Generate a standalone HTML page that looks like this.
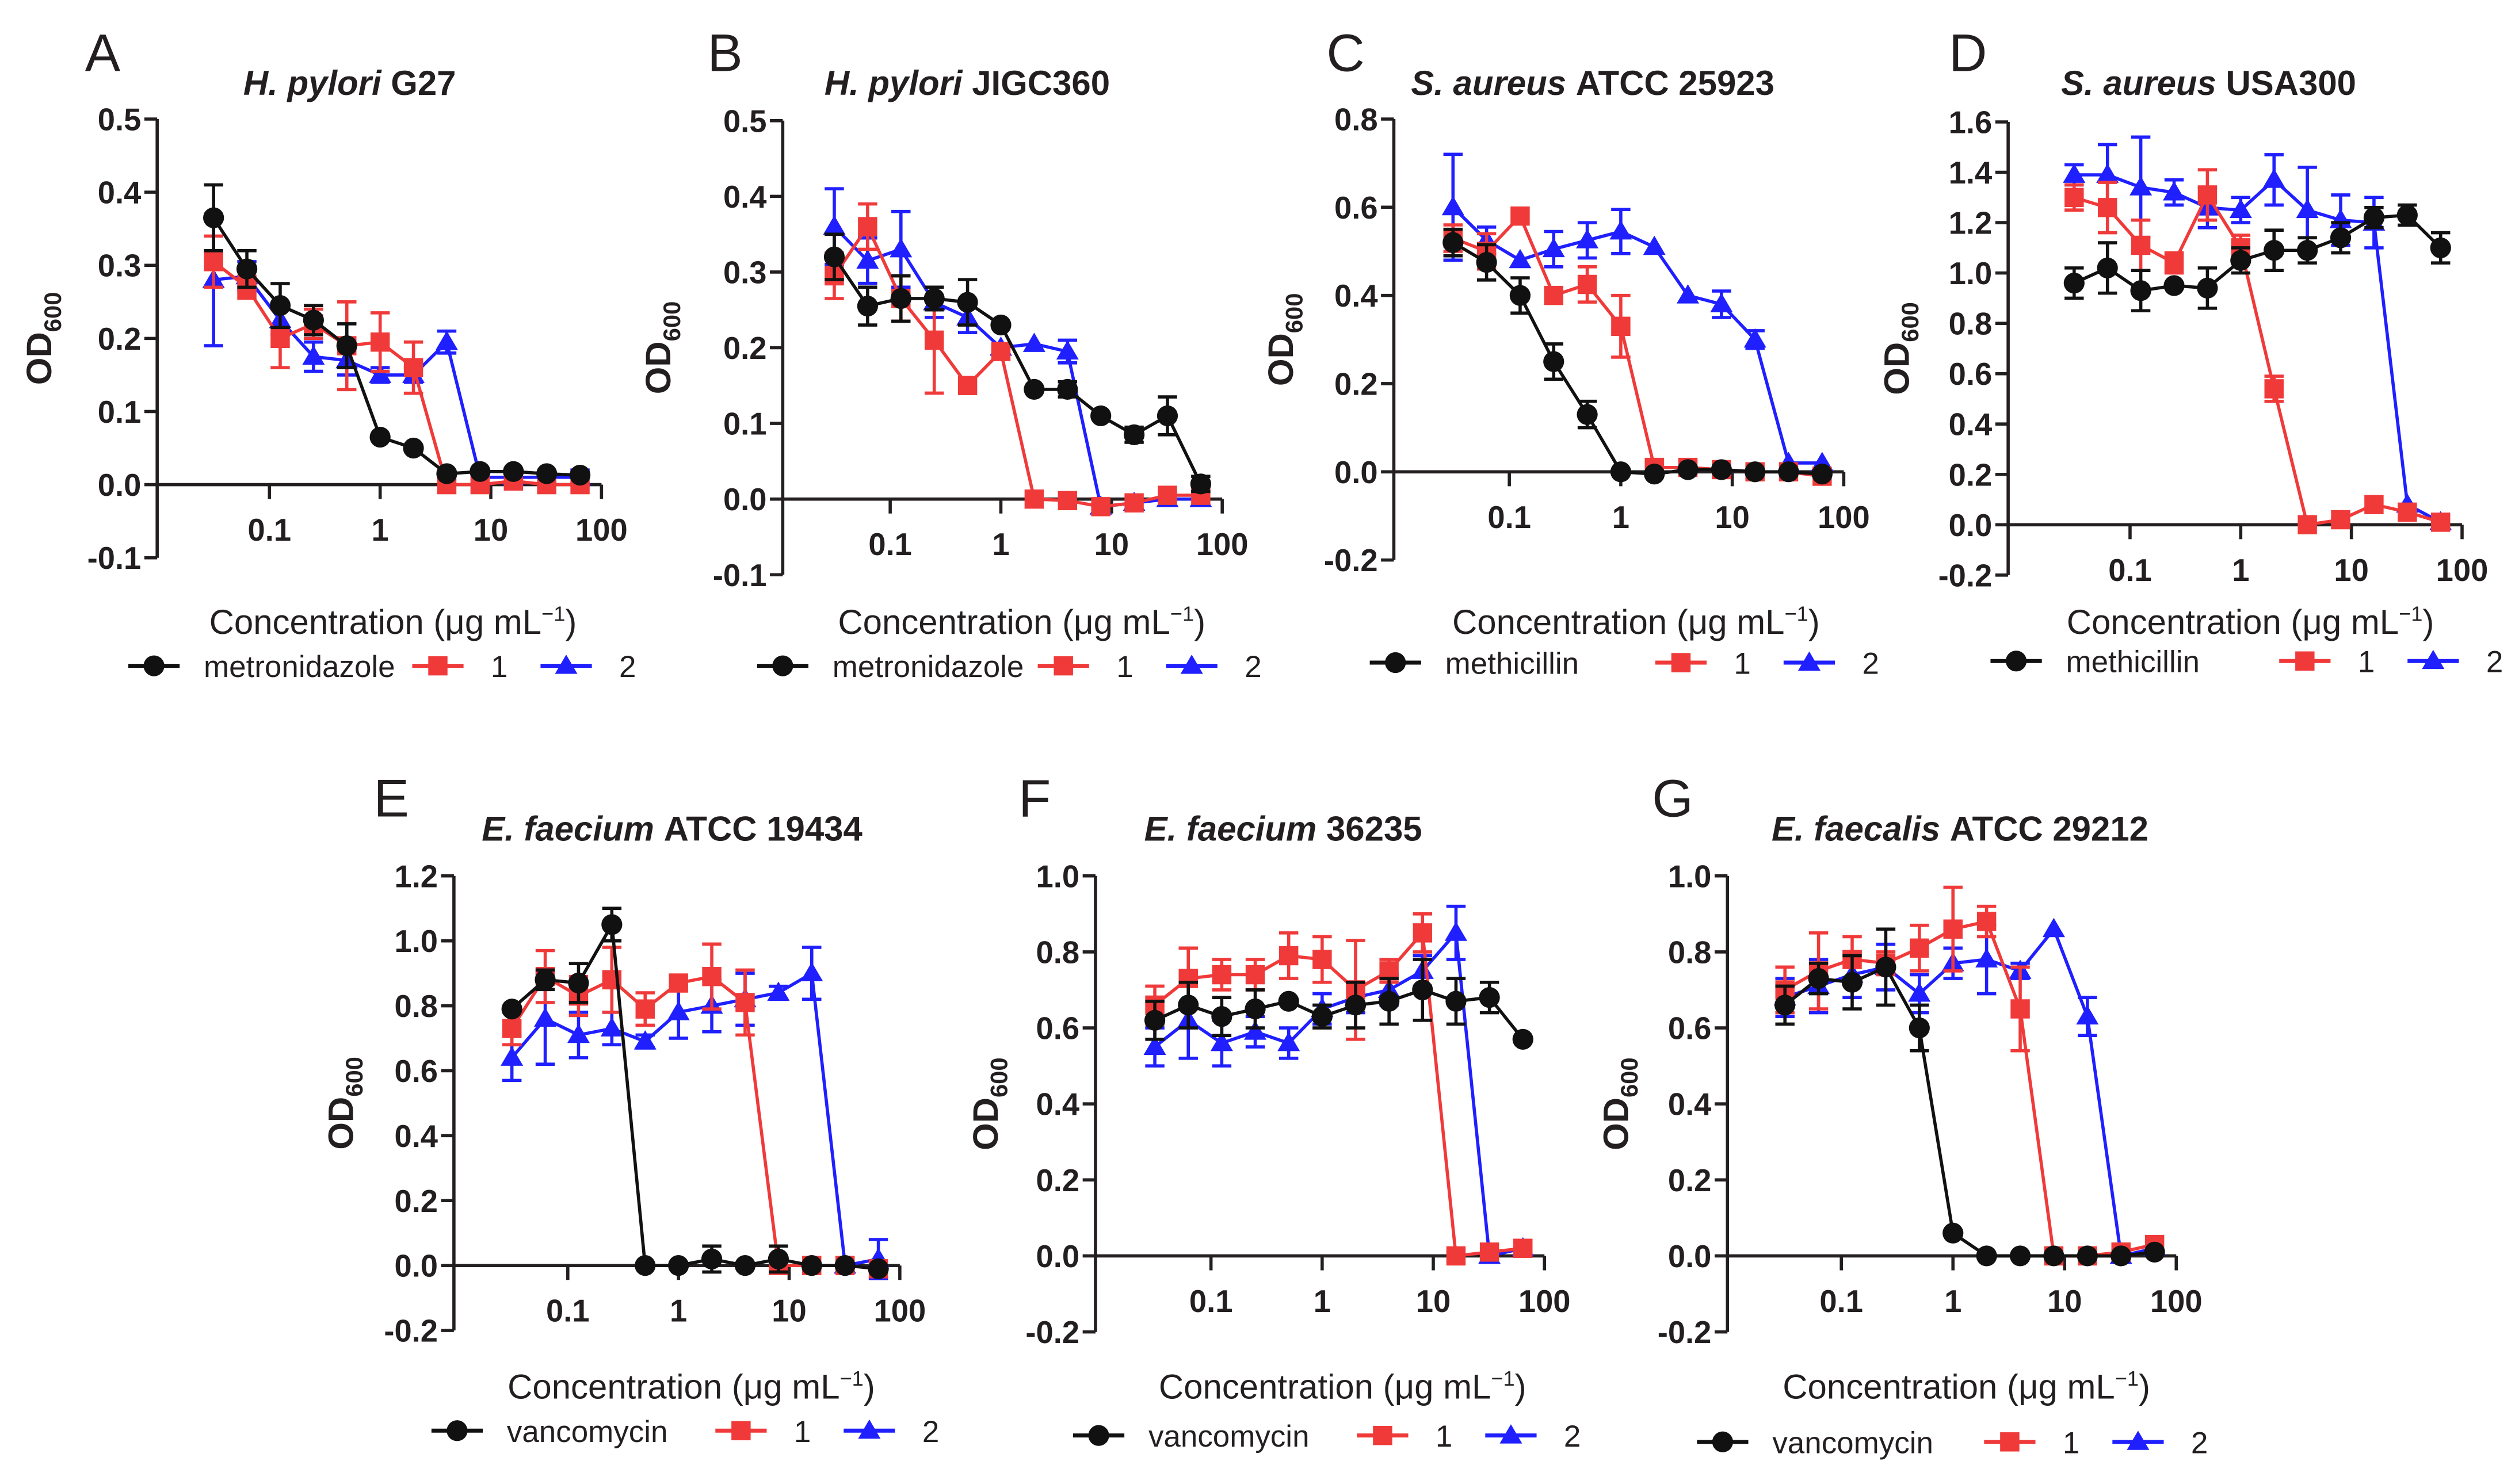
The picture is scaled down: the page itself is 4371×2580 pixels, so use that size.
<!DOCTYPE html>
<html><head><meta charset="utf-8"><style>
html,body{margin:0;padding:0;background:#fff;}
svg{display:block;}
text{font-family:"Liberation Sans",Arial,sans-serif;fill:#231f20;}
</style></head><body>
<svg id="fig" width="4371" height="2580" viewBox="0 0 1568 925" xmlns="http://www.w3.org/2000/svg"></svg>
<script>
// concentrations (µg/mL)
const conc = [0.03125,0.0625,0.125,0.25,0.5,1,2,4,8,16,32,64];
// Panel A
const aBlack=[.365,.295,.245,.225,.19,.065,.05,.015,.018,.018,.015,.013];
const aBlackE=[.045,.025,.03,.02,.03,0,0,0,0,0,0,0];
const aRed=[.305,.27,.20,.22,.19,.195,.16,0,0,.005,0,0];
const aRedE=[.035,.015,.04,.02,.06,.04,.035,0,0,0,0,0];
const aBlue=[.28,.285,.225,.175,.17,.15,.15,.195,.01,.01,.01,.01];
const aBlueE=[.09,.02,.02,.02,.02,.01,.01,.015,0,0,0,.01];
// Panel B
const bBlack=[.32,.255,.265,.265,.26,.23,.145,.145,.11,.085,.11,.02];
const bBlackE=[.03,.025,.03,.015,.03,0,0,.01,0,.01,.025,.01];
const bRed=[.295,.36,.265,.21,.15,.195,0,-.002,-.01,-.005,.005,.005];
const bRedE=[.03,.03,.03,.07,0,0,0,0,0,0,0,0];
const bBlue=[.36,.315,.33,.26,.24,.20,.205,.195,-.01,-.005,0,0];
const bBlueE=[.05,.03,.05,.02,.02,0,0,.015,0,0,0,0];
// Panel C
const cBlack=[.52,.475,.40,.25,.13,0,-.005,.005,.005,0,0,-.005];
const cBlackE=[.03,.04,.04,.04,.03,0,0,0,0,0,0,0];
const cRed=[.53,.50,.58,.40,.425,.33,.01,.01,.005,0,0,-.01];
const cRedE=[.03,.04,0,0,.04,.07,0,0,0,0,0,0];
const cBlue=[.60,.525,.48,.505,.525,.545,.51,.40,.38,.30,.02,.02];
const cBlueE=[.12,.03,0,.04,.04,.05,0,0,.03,.02,0,0];
// Panel D
const dBlack=[.96,1.02,.93,.95,.94,1.05,1.09,1.09,1.14,1.22,1.23,1.10];
const dBlackE=[.06,.1,.08,0,.08,.05,.08,.05,.06,.04,.04,.06];
const dRed=[1.30,1.26,1.11,1.04,1.31,1.10,.54,0,.02,.08,.05,.01];
const dRedE=[.05,.1,.1,.04,.1,.05,.05,0,0,0,.03,0];
const dBlue=[1.39,1.39,1.34,1.32,1.26,1.25,1.37,1.25,1.21,1.20,.08,.01];
const dBlueE=[.04,.12,.2,.05,.08,.05,.1,.17,.1,.1,0,0];
// Panel E
const eBlack=[.79,.88,.87,1.05,0,0,.02,0,.02,0,0,-.01];
const eBlackE=[0,.03,.06,.05,0,0,.04,0,.04,0,0,0];
const eRed=[.73,.89,.83,.88,.79,.87,.89,.81,0,0,0,-.01];
const eRedE=[.05,.08,.06,.1,.05,0,.1,.1,0,0,0,0];
const eBlue=[.64,.76,.71,.73,.69,.78,.80,.82,.84,.90,0,.02];
const eBlueE=[.07,.14,.07,.05,.02,.08,.08,.08,.02,.08,0,.06];
// Panel F
const fBlack=[.62,.66,.63,.65,.67,.63,.66,.67,.70,.67,.68,.57];
const fBlackE=[.05,.06,.05,.05,0,.03,.06,.06,.08,.06,.04,0];
const fRed=[.66,.73,.74,.74,.79,.78,.70,.75,.85,0,.01,.02];
const fRedE=[.05,.08,.04,.04,.06,.06,.13,.03,.05,0,0,0];
const fBlue=[.55,.62,.56,.59,.56,.65,.68,.70,.75,.85,0,.02];
const fBlueE=[.05,.1,.06,.04,.04,.04,.04,.04,.04,.07,0,0];
// Panel G
const gBlack=[.66,.73,.72,.76,.60,.06,0,0,0,0,0,.01];
const gBlackE=[.05,.04,.07,.1,.06,0,0,0,0,0,0,0];
const gRed=[.70,.75,.78,.77,.81,.86,.88,.65,0,0,.01,.03];
const gRedE=[.06,.1,.06,.03,.06,.11,.04,.11,0,0,0,0];
const gBlue=[.68,.71,.74,.76,.69,.77,.78,.75,.86,.63,0,.02];
const gBlueE=[.05,.07,.06,.06,.05,.04,.09,.02,0,.05,0,0];

const NS='http://www.w3.org/2000/svg';
const svg=document.getElementById('fig');
function mk(tag,attrs,parent,txt){const e=document.createElementNS(NS,tag);for(const k in attrs)e.setAttribute(k,attrs[k]);if(txt!==undefined)e.textContent=txt;(parent||svg).appendChild(e);return e;}
const BLK='#111',RED='#f03a3a',BLU='#1f1fff';

function marker(g,kind,x,y,color){
  let m;
  if(kind==='c'){m=mk('circle',{cx:x,cy:y,r:6.5,fill:color},g);}
  else if(kind==='s'){m=mk('rect',{x:x-6,y:y-6,width:12,height:12,fill:color},g);}
  else {m=mk('polygon',{points:`${x},${y-7} ${x+7},${y+5} ${x-7},${y+5}`,fill:color},g);}
  return m;
}

function panel(P){
  const g=mk('g',{});
  
  
  const ys=v=>P.y0-(v/P.step)*P.stepPx;
  const xs=c=>P.x1+(Math.log10(c)+1)*P.dec;
  const yTop=ys(P.ymax), yBot=ys(P.ymin);
  const L=mk('text',{x:P.lx,y:P.ly,'font-size':33},g,P.letter);
  
  
  const t=mk('text',{x:P.tx,y:P.ty,'font-size':21.5,'font-weight':'bold','text-anchor':'middle'},g);
  
  
  mk('tspan',{'font-style':'italic'},t,P.it+' ');
  mk('tspan',{},t,P.rest);
  const ya=mk('line',{x1:P.ax,y1:yTop,x2:P.ax,y2:yBot,stroke:'#231f20','stroke-width':2},g);
  
  
  for(let v=P.ymin;v<=P.ymax+1e-9;v+=P.step){
    const y=ys(v);
    mk('line',{x1:P.ax-8,y1:y,x2:P.ax,y2:y,stroke:'#231f20','stroke-width':2},g);
    const tl=mk('text',{x:P.ax-10,y:y+7,'font-size':19.5,'font-weight':'bold','text-anchor':'end'},g,v.toFixed(1).replace('-0.0','0.0'));
    
    
  }
  const xEnd=xs(100);
  const xa=mk('line',{x1:P.ax,y1:P.y0,x2:xEnd,y2:P.y0,stroke:'#231f20','stroke-width':2},g);
  
  
  [0.1,1,10,100].forEach(c=>{
    const x=xs(c);
    mk('line',{x1:x,y1:P.y0,x2:x,y2:P.y0+9,stroke:'#231f20','stroke-width':2},g);
    const tl=mk('text',{x:x,y:P.y0+35,'font-size':19.5,'font-weight':'bold','text-anchor':'middle'},g,String(c));
    
    
  });
  const yt=mk('text',{transform:`translate(${P.ytx},${(yTop+yBot)/2}) rotate(-90)`,'font-size':22,'font-weight':'bold','text-anchor':'middle'},g);
  
  
  mk('tspan',{},yt,'OD');
  mk('tspan',{'font-size':15,dy:6},yt,'600');
  const xt=mk('text',{x:P.xtx,y:P.xty,'font-size':21.5,'text-anchor':'middle'},g);
  
  
  mk('tspan',{},xt,'Concentration (μg mL');
  mk('tspan',{'font-size':13,dy:-8},xt,'−1');
  mk('tspan',{dy:8},xt,')');
  const series=[[P.blue,P.blueE,BLU,'t','series-2'],[P.red,P.redE,RED,'s','series-1'],[P.black,P.blackE,BLK,'c','series-'+P.drug]];
  series.forEach(([vals,errs,col,kind,name])=>{
    const sg=mk('g',{},g);
    
    
    const pts=vals.map((v,i)=>xs(conc[i]).toFixed(1)+','+ys(v).toFixed(1)).join(' ');
    const pl=mk('polyline',{points:pts,fill:'none',stroke:col,'stroke-width':2},sg);
    
    
    vals.forEach((v,i)=>{
      const x=xs(conc[i]),e=errs[i];
      if(e>0){
        mk('line',{x1:x,y1:ys(v-e),x2:x,y2:ys(v+e),stroke:col,'stroke-width':2},sg);
        mk('line',{x1:x-6,y1:ys(v+e),x2:x+6,y2:ys(v+e),stroke:col,'stroke-width':2},sg);
        mk('line',{x1:x-6,y1:ys(v-e),x2:x+6,y2:ys(v-e),stroke:col,'stroke-width':2},sg);
      }
      const m=marker(sg,kind,x,ys(v),col);
      
      
    });
  });
  const lg=mk('g',{},g);
  
  
  [[P.lgx[0],BLK,'c',P.drug],[P.lgx[1],RED,'s','1'],[P.lgx[2],BLU,'t','2']].forEach(([x,col,kind,lab])=>{
    const eg=mk('g',{},lg);
    
    
    mk('line',{x1:x-16,y1:P.lgy,x2:x+16,y2:P.lgy,stroke:col,'stroke-width':2.5},eg);
    marker(eg,kind,x,P.lgy,col);
    mk('text',{x:x+(lab.length>1?31:33),y:P.lgy+7,'font-size':19},eg,lab);
  });
}

panel({letter:'A',lx:53,ly:44,it:'H. pylori',rest:'G27',tx:218,ty:59,ax:98,y0:302,step:0.1,stepPx:45.6,ymin:-0.1,ymax:0.5,x1:168,dec:69,ytx:32,xtx:245,xty:395,lgx:[96,273,353],lgy:415,drug:'metronidazole',black:aBlack,blackE:aBlackE,red:aRed,redE:aRedE,blue:aBlue,blueE:aBlueE});
panel({letter:'B',lx:441,ly:44,it:'H. pylori',rest:'JIGC360',tx:603,ty:59,ax:488,y0:311,step:0.1,stepPx:47.2,ymin:-0.1,ymax:0.5,x1:555,dec:69,ytx:418,xtx:637,xty:395,lgx:[488,663,743],lgy:415,drug:'metronidazole',black:bBlack,blackE:bBlackE,red:bRed,redE:bRedE,blue:bBlue,blueE:bBlueE});
panel({letter:'C',lx:827,ly:44,it:'S. aureus',rest:'ATCC 25923',tx:993,ty:59,ax:869,y0:294,step:0.2,stepPx:55,ymin:-0.2,ymax:0.8,x1:941,dec:69.5,ytx:806,xtx:1020,xty:395,lgx:[870,1048,1128],lgy:413,drug:'methicillin',black:cBlack,blackE:cBlackE,red:cRed,redE:cRedE,blue:cBlue,blueE:cBlueE});
panel({letter:'D',lx:1215,ly:44,it:'S. aureus',rest:'USA300',tx:1377,ty:59,ax:1252,y0:327,step:0.2,stepPx:31.4,ymin:-0.2,ymax:1.6,x1:1328,dec:69,ytx:1190,xtx:1403,xty:395,lgx:[1257,1437,1517],lgy:412,drug:'methicillin',black:dBlack,blackE:dBlackE,red:dRed,redE:dRedE,blue:dBlue,blueE:dBlueE});
panel({letter:'E',lx:233,ly:509,it:'E. faecium',rest:'ATCC 19434',tx:419,ty:524,ax:283,y0:789,step:0.2,stepPx:40.5,ymin:-0.2,ymax:1.2,x1:354,dec:69,ytx:220,xtx:431,xty:872,lgx:[285,462,542],lgy:892,drug:'vancomycin',black:eBlack,blackE:eBlackE,red:eRed,redE:eRedE,blue:eBlue,blueE:eBlueE});
panel({letter:'F',lx:635,ly:509,it:'E. faecium',rest:'36235',tx:800,ty:524,ax:683,y0:783,step:0.2,stepPx:47.4,ymin:-0.2,ymax:1.0,x1:755,dec:69.3,ytx:622,xtx:837,xty:872,lgx:[685,862,942],lgy:895,drug:'vancomycin',black:fBlack,blackE:fBlackE,red:fRed,redE:fRedE,blue:fBlue,blueE:fBlueE});
panel({letter:'G',lx:1030,ly:509,it:'E. faecalis',rest:'ATCC 29212',tx:1222,ty:524,ax:1077,y0:783,step:0.2,stepPx:47.4,ymin:-0.2,ymax:1.0,x1:1148,dec:69.6,ytx:1015,xtx:1226,xty:872,lgx:[1074,1253,1333],lgy:899,drug:'vancomycin',black:gBlack,blackE:gBlackE,red:gRed,redE:gRedE,blue:gBlue,blueE:gBlueE});
</script>
</body></html>
